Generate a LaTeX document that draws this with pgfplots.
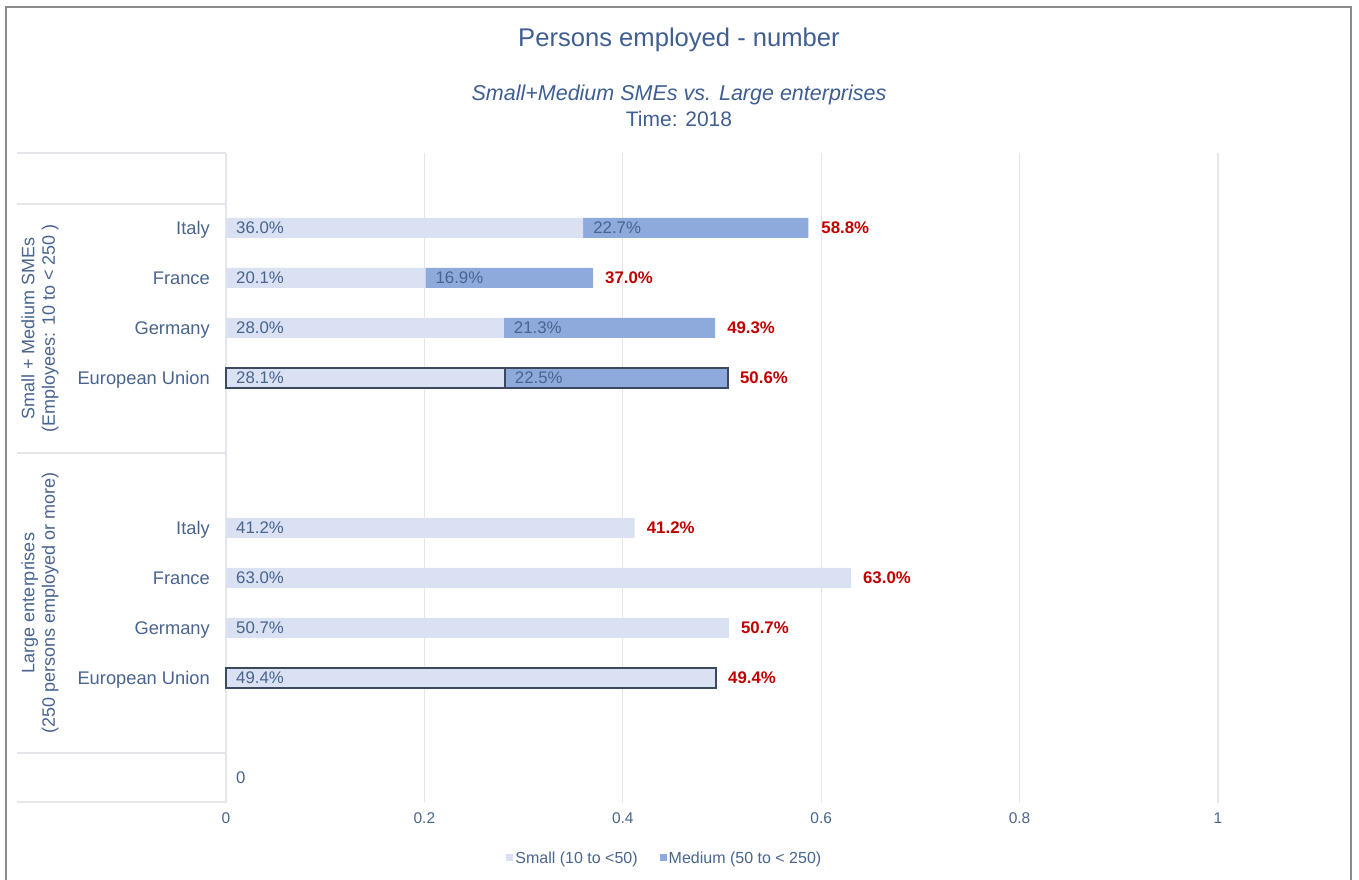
\documentclass[border=0pt]{standalone}
\usepackage{fontspec}
\setmainfont{Liberation Sans}
\usepackage{pgfplots}
\pgfplotsset{compat=1.18}
\definecolor{txt}{HTML}{48648F}
\definecolor{ttl}{HTML}{3F5E92}
\definecolor{smallc}{HTML}{D9E1F2}
\definecolor{medc}{HTML}{8EA9DB}
\definecolor{redc}{HTML}{C00000}
\definecolor{eub}{HTML}{3B4A5E}
\definecolor{gridc}{HTML}{E4E6EA}
\definecolor{framec}{HTML}{8A8A8A}
\pgfplotsset{myax/.style={
  scale only axis, width=1111pt, height=650pt,
  at={(226pt,77pt)}, anchor=south west,
  xmin=0, xmax=1.12, ymin=-0.5, ymax=12.5, clip=false}}
\newcommand{\barfont}{\fontsize{16.8}{20}\selectfont}
\begin{document}
\begin{tikzpicture}[x=1pt,y=1pt]
\path[use as bounding box] (0,0) rectangle (1359,880);
\draw[framec, line width=2pt] (6,-2) -- (6,873) -- (1351,873) -- (1351,-2);
\foreach \yy in {727,676,427,127,78} \draw[gridc, line width=1.5pt] (17,\yy) -- (226,\yy);
\node[anchor=base, text=ttl, font=\fontsize{25.6}{30}\selectfont] at (679,833) {Persons employed - number};
\node[anchor=base, text=ttl, font=\fontsize{21.5}{26}\selectfont\itshape] at (679,779) {Small+Medium SMEs vs. Large enterprises};
\node[anchor=base, text=ttl, font=\fontsize{21}{26}\selectfont] at (679,753) {Time: 2018};
\node[rotate=90, align=center, text=txt, font=\fontsize{18}{20.5}\selectfont] at (40,551.5) {Small + Medium SMEs\\(Employees: 10 to < 250 )};
\node[rotate=90, align=center, text=txt, font=\fontsize{18}{20.5}\selectfont] at (40,277) {Large enterprises\\(250 persons employed or more)};

% main bars
\begin{axis}[myax, xbar stacked, bar width=20pt,
  xtick={0,0.2,0.4,0.6,0.8,1}, xticklabels={0,0.2,0.4,0.6,0.8,1},
  ytick={2,3,4,5,8,9,10,11},
  yticklabels={European Union,Germany,France,Italy,European Union,Germany,France,Italy},
  xmajorgrids, major grid style={gridc, line width=1.2pt},
  axis line style={draw=none}, major tick length=0pt,
  xticklabel style={font=\fontsize{15.5}{18}\selectfont, text=txt, anchor=center, yshift=-15pt, inner sep=0pt},
  yticklabel style={font=\fontsize{18.3}{22}\selectfont, text=txt, anchor=base east, xshift=-16pt, yshift=-6.5pt, inner sep=0pt},
  legend style={at={(axis description cs:0.395,-0.0846)}, anchor=center, draw=none, fill=none,
    legend columns=2, font=\fontsize{16}{19}\selectfont, text=txt,
    /tikz/every even column/.append style={column sep=20pt}},
  legend image code/.code={\fill[#1] (0pt,-3.5pt) rectangle (7pt,3.5pt);},
]
\addplot[fill=smallc, draw=none] coordinates {
  (0.360,11) (0.201,10) (0.280,9) (0.281,8)
  (0.412,5) (0.630,4) (0.507,3) (0.494,2)};
\addplot[fill=medc, draw=none] coordinates {
  (0.227,11) (0.169,10) (0.213,9) (0.225,8)
  (0,5) (0,4) (0,3) (0,2)};
\legend{Small (10 to <50), Medium (50 to < 250)}
\end{axis}

% EU outlines
\begin{axis}[myax, hide axis, xbar stacked, bar width=20pt]
\addplot[fill=none, draw=eub, line width=2.5pt] coordinates {(0.281,8) (0.494,2)};
\addplot[fill=none, draw=eub, line width=2.5pt] coordinates {(0.225,8) (0,2)};
\end{axis}

% value labels
\begin{axis}[myax, hide axis]
\addplot[draw=none, mark=none, nodes near coords, point meta=explicit symbolic,
  nodes near coords style={anchor=west, xshift=10pt, inner sep=0pt, text=txt, font=\barfont}]
  coordinates {
  (0,11) [36.0\%] (0,10) [20.1\%] (0,9) [28.0\%] (0,8) [28.1\%]
  (0,5) [41.2\%] (0,4) [63.0\%] (0,3) [50.7\%] (0,2) [49.4\%] (0,0) [0]};
\addplot[draw=none, mark=none, nodes near coords, point meta=explicit symbolic,
  nodes near coords style={anchor=west, xshift=10pt, inner sep=0pt, text=txt, font=\barfont}]
  coordinates {
  (0.360,11) [22.7\%] (0.201,10) [16.9\%] (0.280,9) [21.3\%] (0.281,8) [22.5\%]};
\addplot[draw=none, mark=none, nodes near coords, point meta=explicit symbolic,
  nodes near coords style={anchor=west, xshift=12pt, inner sep=0pt, text=redc, font=\barfont\bfseries}]
  coordinates {
  (0.588,11) [58.8\%] (0.370,10) [37.0\%] (0.493,9) [49.3\%] (0.506,8) [50.6\%]
  (0.412,5) [41.2\%] (0.630,4) [63.0\%] (0.507,3) [50.7\%] (0.494,2) [49.4\%]};
\end{axis}
\end{tikzpicture}
\end{document}
